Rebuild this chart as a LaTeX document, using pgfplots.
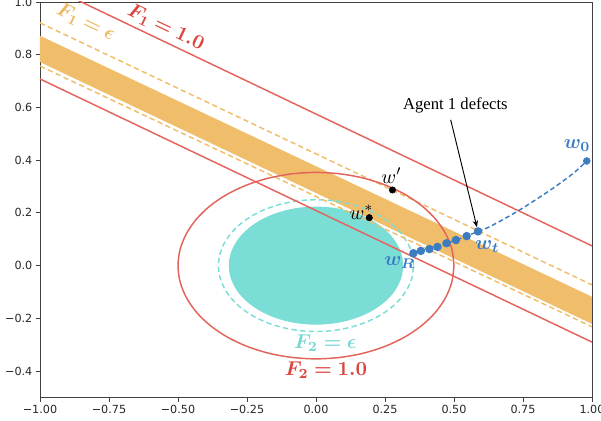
\documentclass[border=0pt]{standalone}
\usepackage{bm}
\usepackage{fontspec}
\usepackage{pgfplots}
\pgfplotsset{compat=1.18}
\usetikzlibrary{arrows.meta}
\newfontfamily\tickfont{DejaVu Sans}
\newfontfamily\timesfont{Liberation Serif}
\definecolor{redline}{HTML}{E3645C}
\definecolor{redtext}{HTML}{D9463F}
\definecolor{orangeband}{HTML}{F0BE6A}
\definecolor{orangetext}{HTML}{EDB860}
\definecolor{tealc}{HTML}{7ADDD6}
\definecolor{tealtext}{HTML}{74D8D0}
\definecolor{bluec}{HTML}{3B7DC0}
\begin{document}
\begin{tikzpicture}
\useasboundingbox (-30pt,-17.6pt) rectangle (420.75pt,298.1pt);
\begin{axis}[
  at={(0,0)}, anchor=south west,
  scale only axis, width=414pt, height=296.6pt,
  xmin=-1, xmax=1, ymin=-0.5, ymax=1,
  clip mode=individual,
  axis line style={black!75, line width=0.7pt},
  tick align=outside, xtick pos=bottom, ytick pos=left,
  major tick length=3.2pt,
  tick style={black!75, line width=0.7pt},
  xtick={-1,-0.75,-0.5,-0.25,0,0.25,0.5,0.75,1},
  xticklabels={−1.00,−0.75,−0.50,−0.25,0.00,0.25,0.50,0.75,1.00},
  ytick={-0.4,-0.2,0,0.2,0.4,0.6,0.8,1.0},
  yticklabels={−0.4,−0.2,0.0,0.2,0.4,0.6,0.8,1.0},
  ticklabel style={font=\tickfont\fontsize{8.4}{9}\selectfont, text=black!85},
  xticklabel style={yshift=1pt},
  yticklabel style={xshift=1pt},
]
% teal filled ellipse (F2 region)
\addplot[fill=tealc, draw=none, smooth] coordinates {
(0.316,0) (0.3112,0.0389) (0.2969,0.0766) (0.2737,0.112) (0.2421,0.144) (0.2031,0.1716) (0.158,0.194) (0.1081,0.2105) (0.0549,0.2206) (0,0.224)
(-0.0549,0.2206) (-0.1081,0.2105) (-0.158,0.194) (-0.2031,0.1716) (-0.2421,0.144) (-0.2737,0.112) (-0.2969,0.0766) (-0.3112,0.0389) (-0.316,0)
(-0.3112,-0.0389) (-0.2969,-0.0766) (-0.2737,-0.112) (-0.2421,-0.144) (-0.2031,-0.1716) (-0.158,-0.194) (-0.1081,-0.2105) (-0.0549,-0.2206) (0,-0.224)
(0.0549,-0.2206) (0.1081,-0.2105) (0.158,-0.194) (0.2031,-0.1716) (0.2421,-0.144) (0.2737,-0.112) (0.2969,-0.0766) (0.3112,-0.0389) (0.316,0)};
% orange band
\addplot[fill=orangeband, draw=none] coordinates {(-1,0.872) (1,-0.118) (1,-0.221) (-1,0.772) (-1,0.872)};
% teal dashed ellipse
\addplot[tealc, line width=1.1pt, dash pattern=on 4pt off 2.5pt, smooth] coordinates {
(0.3536,0) (0.3482,0.0434) (0.3323,0.0855) (0.3062,0.125) (0.2709,0.1607) (0.2273,0.1915) (0.1768,0.2165) (0.1209,0.2349) (0.0614,0.2462) (0,0.25)
(-0.0614,0.2462) (-0.1209,0.2349) (-0.1768,0.2165) (-0.2273,0.1915) (-0.2709,0.1607) (-0.3062,0.125) (-0.3323,0.0855) (-0.3482,0.0434) (-0.3536,0)
(-0.3482,-0.0434) (-0.3323,-0.0855) (-0.3062,-0.125) (-0.2709,-0.1607) (-0.2273,-0.1915) (-0.1768,-0.2165) (-0.1209,-0.2349) (-0.0614,-0.2462) (0,-0.25)
(0.0614,-0.2462) (0.1209,-0.2349) (0.1768,-0.2165) (0.2273,-0.1915) (0.2709,-0.1607) (0.3062,-0.125) (0.3323,-0.0855) (0.3482,-0.0434) (0.3536,0)};
% orange dashed lines
\addplot[orangeband, line width=1.1pt, dash pattern=on 4pt off 2.5pt] coordinates {(-1,0.921) (1,-0.073)};
\addplot[orangeband, line width=1.1pt, dash pattern=on 4pt off 2.5pt] coordinates {(-1,0.757) (1,-0.232)};
% red lines
\addplot[redline, line width=1.1pt] coordinates {(-1,1.075) (1,0.075)};
\addplot[redline, line width=1.1pt] coordinates {(-1,0.708) (1,-0.290)};
% red ellipse
\addplot[redline, line width=1.1pt, smooth] coordinates {
(0.5,0) (0.4924,0.0614) (0.4698,0.1209) (0.4330,0.1768) (0.3830,0.2273) (0.3214,0.2709) (0.25,0.3062) (0.1710,0.3323) (0.0868,0.3482) (0,0.3536)
(-0.0868,0.3482) (-0.1710,0.3323) (-0.25,0.3062) (-0.3214,0.2709) (-0.3830,0.2273) (-0.4330,0.1768) (-0.4698,0.1209) (-0.4924,0.0614) (-0.5,0)
(-0.4924,-0.0614) (-0.4698,-0.1209) (-0.4330,-0.1768) (-0.3830,-0.2273) (-0.3214,-0.2709) (-0.25,-0.3062) (-0.1710,-0.3323) (-0.0868,-0.3482) (0,-0.3536)
(0.0868,-0.3482) (0.1710,-0.3323) (0.25,-0.3062) (0.3214,-0.2709) (0.3830,-0.2273) (0.4330,-0.1768) (0.4698,-0.1209) (0.4924,-0.0614) (0.5,0)};
% blue trajectory
\addplot[bluec, line width=1.1pt, dash pattern=on 3.5pt off 2.2pt, smooth] coordinates {(0.587,0.130) (0.630,0.148) (0.733,0.208) (0.848,0.286) (0.932,0.350) (0.981,0.397)};
\addplot[bluec, line width=1.1pt, dash pattern=on 3.5pt off 2.2pt, mark=*, mark size=2.6pt, mark options={solid, fill=bluec, draw=bluec}] coordinates {
(0.353,0.047) (0.380,0.056) (0.411,0.063) (0.440,0.071) (0.473,0.085) (0.507,0.097) (0.546,0.112) (0.587,0.130)};
\addplot[only marks, mark=*, mark size=2.6pt, bluec] coordinates {(0.981,0.397)};
% black points
\addplot[only marks, mark=*, mark size=2.4pt, black] coordinates {(0.277,0.287) (0.193,0.182)};
% arrow and annotation
\draw[black, line width=0.7pt, -{Stealth[length=5pt,width=4pt]}] (axis cs:0.488,0.553) -- (axis cs:0.583,0.146);
\node[font=\timesfont\fontsize{12.5}{14}\selectfont] at (axis cs:0.505,0.606) {Agent 1 defects};
% labels
\node[text=redtext, rotate=-25.5, scale=1.5, inner sep=0pt] at (axis cs:-0.544,0.903) {$\bm{F_1 = 1.0}$};
\node[text=orangetext, rotate=-25.5, scale=1.5, inner sep=0pt] at (axis cs:-0.834,0.922) {$\bm{F_1 = \epsilon}$};
\node[text=tealtext, scale=1.5, inner sep=0pt] at (axis cs:0.034,-0.293) {$\bm{F_2 = \epsilon}$};
\node[text=redtext, scale=1.5, inner sep=0pt] at (axis cs:0.036,-0.396) {$\bm{F_2 = 1.0}$};
\node[text=bluec, scale=1.5, inner sep=0pt] at (axis cs:0.946,0.454) {$\bm{w_0}$};
\node[text=bluec, scale=1.5, inner sep=0pt] at (axis cs:0.621,0.072) {$\bm{w_t}$};
\node[text=bluec, scale=1.5, inner sep=0pt] at (axis cs:0.304,0.012) {$\bm{w_R}$};
\node[text=black, scale=1.5, inner sep=0pt] at (axis cs:0.274,0.341) {$w'$};
\node[text=black, scale=1.5, inner sep=0pt] at (axis cs:0.165,0.203) {$w^{*}$};
\end{axis}
\end{tikzpicture}
\end{document}
